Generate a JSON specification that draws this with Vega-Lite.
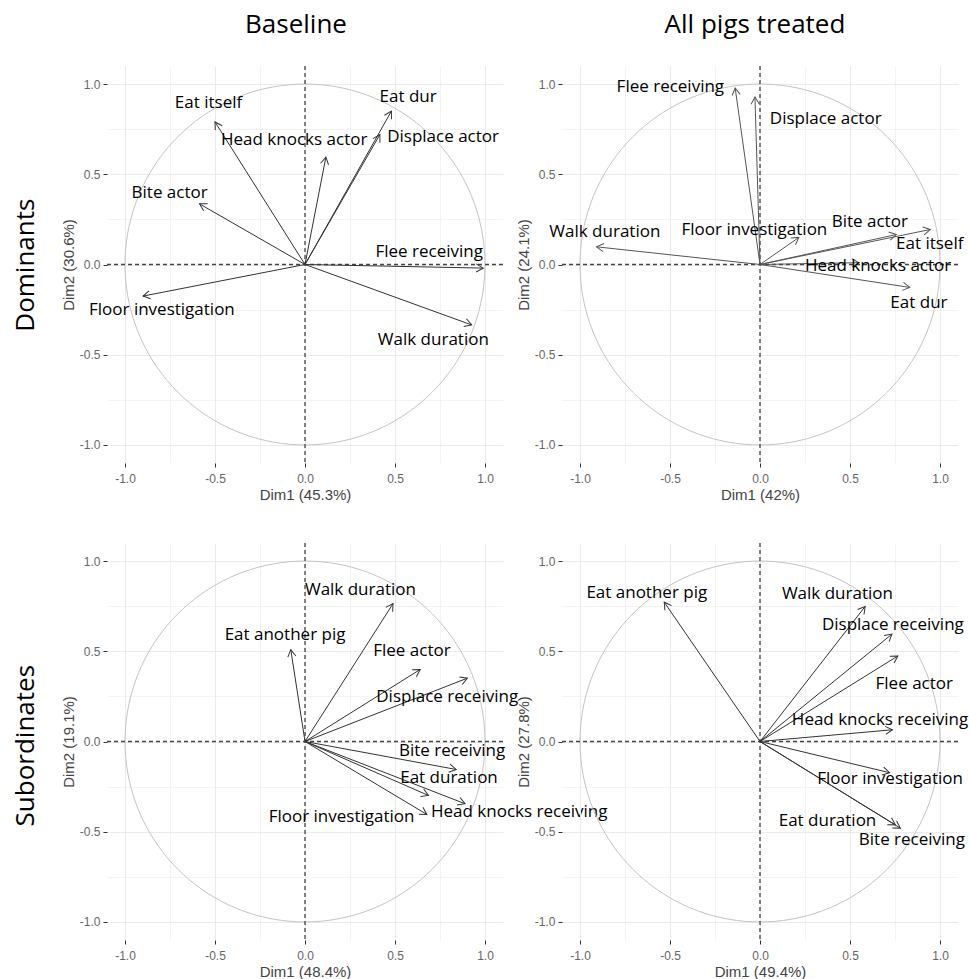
{
"$schema":"https://vega.github.io/schema/vega-lite/v6.json",
"background":"white",
"padding":{"left":13,"top":12,"right":5,"bottom":5},
"config":{"view":{"stroke":null},
 "axis":{"domain":false,"grid":true,"gridColor":"#ebebeb","tickColor":"#333","tickSize":4,"tickWidth":1,"labelFont":"Liberation Sans","labelFontSize":12,"labelColor":"#666","titleFont":"Liberation Sans","titleFontSize":15,"titleFontWeight":"normal","titleColor":"#444","labelOverlap":false,"labelFlush":false},
 "axisX":{"labelPadding":6,"titlePadding":3},
 "axisY":{"labelPadding":3,"titlePadding":3}
},
"datasets":{
"circle":[
{"i":0,"cx":1,"cy":0},{"i":1,"cx":0.9848,"cy":0.1736},{"i":2,"cx":0.9397,"cy":0.342},{"i":3,"cx":0.866,"cy":0.5},{"i":4,"cx":0.766,"cy":0.6428},{"i":5,"cx":0.6428,"cy":0.766},{"i":6,"cx":0.5,"cy":0.866},{"i":7,"cx":0.342,"cy":0.9397},{"i":8,"cx":0.1736,"cy":0.9848},{"i":9,"cx":0,"cy":1},
{"i":10,"cx":-0.1736,"cy":0.9848},{"i":11,"cx":-0.342,"cy":0.9397},{"i":12,"cx":-0.5,"cy":0.866},{"i":13,"cx":-0.6428,"cy":0.766},{"i":14,"cx":-0.766,"cy":0.6428},{"i":15,"cx":-0.866,"cy":0.5},{"i":16,"cx":-0.9397,"cy":0.342},{"i":17,"cx":-0.9848,"cy":0.1736},{"i":18,"cx":-1,"cy":0},
{"i":19,"cx":-0.9848,"cy":-0.1736},{"i":20,"cx":-0.9397,"cy":-0.342},{"i":21,"cx":-0.866,"cy":-0.5},{"i":22,"cx":-0.766,"cy":-0.6428},{"i":23,"cx":-0.6428,"cy":-0.766},{"i":24,"cx":-0.5,"cy":-0.866},{"i":25,"cx":-0.342,"cy":-0.9397},{"i":26,"cx":-0.1736,"cy":-0.9848},{"i":27,"cx":0,"cy":-1},
{"i":28,"cx":0.1736,"cy":-0.9848},{"i":29,"cx":0.342,"cy":-0.9397},{"i":30,"cx":0.5,"cy":-0.866},{"i":31,"cx":0.6428,"cy":-0.766},{"i":32,"cx":0.766,"cy":-0.6428},{"i":33,"cx":0.866,"cy":-0.5},{"i":34,"cx":0.9397,"cy":-0.342},{"i":35,"cx":0.9848,"cy":-0.1736}
],
"A":[
{"label":"Eat itself","x":-0.50,"y":0.79,"lx":-0.536,"ly":0.895},
{"label":"Head knocks actor","x":0.116,"y":0.595,"lx":-0.06,"ly":0.69},
{"label":"Eat dur","x":0.48,"y":0.85,"lx":0.573,"ly":0.928},
{"label":"Displace actor","x":0.416,"y":0.72,"lx":0.767,"ly":0.706},
{"label":"Bite actor","x":-0.586,"y":0.336,"lx":-0.752,"ly":0.397},
{"label":"Flee receiving","x":0.99,"y":-0.02,"lx":0.69,"ly":0.072},
{"label":"Floor investigation","x":-0.90,"y":-0.175,"lx":-0.795,"ly":-0.25},
{"label":"Walk duration","x":0.926,"y":-0.335,"lx":0.713,"ly":-0.421}
],
"B":[
{"label":"Flee receiving","x":-0.138,"y":0.978,"lx":-0.498,"ly":0.983},
{"label":"Displace actor","x":-0.028,"y":0.928,"lx":0.365,"ly":0.805},
{"label":"Walk duration","x":-0.908,"y":0.098,"lx":-0.862,"ly":0.181},
{"label":"Floor investigation","x":0.216,"y":0.15,"lx":-0.031,"ly":0.19},
{"label":"Bite actor","x":0.757,"y":0.166,"lx":0.61,"ly":0.233},
{"label":"Eat itself","x":0.946,"y":0.194,"lx":0.943,"ly":0.116},
{"label":"Head knocks actor","x":0.55,"y":0.01,"lx":0.656,"ly":-0.007},
{"label":"Eat dur","x":0.832,"y":-0.127,"lx":0.883,"ly":-0.216}
],
"C":[
{"label":"Walk duration","x":0.489,"y":0.764,"lx":0.308,"ly":0.841},
{"label":"Eat another pig","x":-0.079,"y":0.509,"lx":-0.111,"ly":0.589},
{"label":"Flee actor","x":0.64,"y":0.399,"lx":0.594,"ly":0.5},
{"label":"Displace receiving","x":0.902,"y":0.351,"lx":0.79,"ly":0.249},
{"label":"Bite receiving","x":0.84,"y":-0.155,"lx":0.817,"ly":-0.055},
{"label":"Eat duration","x":0.686,"y":-0.299,"lx":0.80,"ly":-0.2},
{"label":"Head knocks receiving","x":0.889,"y":-0.345,"lx":1.19,"ly":-0.392},
{"label":"Floor investigation","x":0.677,"y":-0.404,"lx":0.203,"ly":-0.42}
],
"D":[
{"label":"Eat another pig","x":-0.532,"y":0.772,"lx":-0.629,"ly":0.823},
{"label":"Walk duration","x":0.584,"y":0.748,"lx":0.43,"ly":0.819},
{"label":"Displace receiving","x":0.733,"y":0.595,"lx":0.738,"ly":0.645},
{"label":"Flee actor","x":0.766,"y":0.474,"lx":0.857,"ly":0.32},
{"label":"Head knocks receiving","x":0.736,"y":0.065,"lx":0.667,"ly":0.119},
{"label":"Floor investigation","x":0.72,"y":-0.173,"lx":0.723,"ly":-0.21},
{"label":"Eat duration","x":0.752,"y":-0.462,"lx":0.375,"ly":-0.439},
{"label":"Bite receiving","x":0.78,"y":-0.48,"lx":0.844,"ly":-0.545}
]
},
"vconcat":[
{"title":{"text":"Dominants","orient":"left","anchor":"middle","font":"Open Sans","fontSize":26,"fontWeight":"normal","color":"#000","offset":22,"dx":-8},
 "spacing":59,"bounds":"flush",
 "hconcat":[
 {"width":396,"height":397,
  "title":{"text":"Baseline","font":"Open Sans","fontSize":26,"fontWeight":"normal","color":"#000","anchor":"middle","baseline":"alphabetic","offset":6,"dx":-9},
  "layer":[
  {"data":{"name":"circle"},"mark":{"type":"line","color":"#c4c4c4","strokeWidth":1,"interpolate":"cardinal-closed"},
   "encoding":{
    "x":{"field":"cx","type":"quantitative","scale":{"domain":[-1.1,1.1],"nice":false,"zero":false},
     "axis":{"title":"Dim1 (45.3%)","values":[-1,-0.75,-0.5,-0.25,0,0.25,0.5,0.75,1],"labelExpr":"abs(datum.value*2-round(datum.value*2))<0.01 ? replace(format(datum.value,'.1f'),'\u2212','-') : ''","gridWidth":{"condition":{"test":"abs(datum.value*2-round(datum.value*2))>0.01","value":0.6},"value":1},"tickOpacity":{"condition":{"test":"abs(datum.value*2-round(datum.value*2))>0.01","value":0},"value":1}}},
    "y":{"field":"cy","type":"quantitative","scale":{"domain":[-1.1,1.1],"nice":false,"zero":false},
     "axis":{"title":"Dim2 (30.6%)","values":[-1,-0.75,-0.5,-0.25,0,0.25,0.5,0.75,1],"labelExpr":"abs(datum.value*2-round(datum.value*2))<0.01 ? replace(format(datum.value,'.1f'),'\u2212','-') : ''","gridWidth":{"condition":{"test":"abs(datum.value*2-round(datum.value*2))>0.01","value":0.6},"value":1},"tickOpacity":{"condition":{"test":"abs(datum.value*2-round(datum.value*2))>0.01","value":0},"value":1}}},
    "order":{"field":"i","type":"quantitative"}}},
  {"data":{"values":[{}]},"mark":{"type":"rule","color":"#444","strokeWidth":1.3,"strokeDash":[4,3]},"encoding":{"x":{"datum":0,"type":"quantitative","scale":{"domain":[-1.1,1.1]}}}},
  {"data":{"values":[{}]},"mark":{"type":"rule","color":"#444","strokeWidth":1.3,"strokeDash":[4,3]},"encoding":{"y":{"datum":0,"type":"quantitative","scale":{"domain":[-1.1,1.1]}}}},
  {"data":{"name":"A"},"mark":{"type":"rule","color":"#333","strokeWidth":1},"encoding":{"x":{"field":"x","type":"quantitative","scale":{"domain":[-1.1,1.1]}},"y":{"field":"y","type":"quantitative","scale":{"domain":[-1.1,1.1]}},"x2":{"datum":0},"y2":{"datum":0}}},
  {"data":{"name":"A"},"transform":[{"calculate":"atan2(datum.x, datum.y)*180/PI","as":"ang"}],"mark":{"type":"point","shape":"M-0.58,1L0,0L0.58,1","filled":false,"stroke":"#333","strokeWidth":1,"size":196,"opacity":1},"encoding":{"x":{"field":"x","type":"quantitative","scale":{"domain":[-1.1,1.1]}},"y":{"field":"y","type":"quantitative","scale":{"domain":[-1.1,1.1]}},"angle":{"field":"ang","type":"quantitative","scale":null}}},
  {"data":{"name":"A"},"mark":{"type":"text","font":"Open Sans","fontSize":17,"color":"#000","align":"center","baseline":"middle"},"encoding":{"x":{"field":"lx","type":"quantitative","scale":{"domain":[-1.1,1.1]}},"y":{"field":"ly","type":"quantitative","scale":{"domain":[-1.1,1.1]}},"text":{"field":"label"}}}
  ]},
 {"width":396,"height":397,
  "title":{"text":"All pigs treated","font":"Open Sans","fontSize":26,"fontWeight":"normal","color":"#000","anchor":"middle","baseline":"alphabetic","offset":6,"dx":-5},
  "layer":[
  {"data":{"name":"circle"},"mark":{"type":"line","color":"#c4c4c4","strokeWidth":1,"interpolate":"cardinal-closed"},
   "encoding":{
    "x":{"field":"cx","type":"quantitative","scale":{"domain":[-1.1,1.1],"nice":false,"zero":false},
     "axis":{"title":"Dim1 (42%)","values":[-1,-0.75,-0.5,-0.25,0,0.25,0.5,0.75,1],"labelExpr":"abs(datum.value*2-round(datum.value*2))<0.01 ? replace(format(datum.value,'.1f'),'\u2212','-') : ''","gridWidth":{"condition":{"test":"abs(datum.value*2-round(datum.value*2))>0.01","value":0.6},"value":1},"tickOpacity":{"condition":{"test":"abs(datum.value*2-round(datum.value*2))>0.01","value":0},"value":1}}},
    "y":{"field":"cy","type":"quantitative","scale":{"domain":[-1.1,1.1],"nice":false,"zero":false},
     "axis":{"title":"Dim2 (24.1%)","values":[-1,-0.75,-0.5,-0.25,0,0.25,0.5,0.75,1],"labelExpr":"abs(datum.value*2-round(datum.value*2))<0.01 ? replace(format(datum.value,'.1f'),'\u2212','-') : ''","gridWidth":{"condition":{"test":"abs(datum.value*2-round(datum.value*2))>0.01","value":0.6},"value":1},"tickOpacity":{"condition":{"test":"abs(datum.value*2-round(datum.value*2))>0.01","value":0},"value":1}}},
    "order":{"field":"i","type":"quantitative"}}},
  {"data":{"values":[{}]},"mark":{"type":"rule","color":"#444","strokeWidth":1.3,"strokeDash":[4,3]},"encoding":{"x":{"datum":0,"type":"quantitative","scale":{"domain":[-1.1,1.1]}}}},
  {"data":{"values":[{}]},"mark":{"type":"rule","color":"#444","strokeWidth":1.3,"strokeDash":[4,3]},"encoding":{"y":{"datum":0,"type":"quantitative","scale":{"domain":[-1.1,1.1]}}}},
  {"data":{"name":"B"},"mark":{"type":"rule","color":"#555","strokeWidth":1},"encoding":{"x":{"field":"x","type":"quantitative","scale":{"domain":[-1.1,1.1]}},"y":{"field":"y","type":"quantitative","scale":{"domain":[-1.1,1.1]}},"x2":{"datum":0},"y2":{"datum":0}}},
  {"data":{"name":"B"},"transform":[{"calculate":"atan2(datum.x, datum.y)*180/PI","as":"ang"}],"mark":{"type":"point","shape":"M-0.58,1L0,0L0.58,1","filled":false,"stroke":"#555","strokeWidth":1,"size":196,"opacity":1},"encoding":{"x":{"field":"x","type":"quantitative","scale":{"domain":[-1.1,1.1]}},"y":{"field":"y","type":"quantitative","scale":{"domain":[-1.1,1.1]}},"angle":{"field":"ang","type":"quantitative","scale":null}}},
  {"data":{"name":"B"},"mark":{"type":"text","font":"Open Sans","fontSize":17,"color":"#000","align":"center","baseline":"middle"},"encoding":{"x":{"field":"lx","type":"quantitative","scale":{"domain":[-1.1,1.1]}},"y":{"field":"ly","type":"quantitative","scale":{"domain":[-1.1,1.1]}},"text":{"field":"label"}}}
  ]}
 ]},
{"title":{"text":"Subordinates","orient":"left","anchor":"middle","font":"Open Sans","fontSize":26,"fontWeight":"normal","color":"#000","offset":22,"dx":15},
 "spacing":59,"bounds":"flush",
 "hconcat":[
 {"width":396,"height":397,
  "layer":[
  {"data":{"name":"circle"},"mark":{"type":"line","color":"#c4c4c4","strokeWidth":1,"interpolate":"cardinal-closed"},
   "encoding":{
    "x":{"field":"cx","type":"quantitative","scale":{"domain":[-1.1,1.1],"nice":false,"zero":false},
     "axis":{"title":"Dim1 (48.4%)","values":[-1,-0.75,-0.5,-0.25,0,0.25,0.5,0.75,1],"labelExpr":"abs(datum.value*2-round(datum.value*2))<0.01 ? replace(format(datum.value,'.1f'),'\u2212','-') : ''","gridWidth":{"condition":{"test":"abs(datum.value*2-round(datum.value*2))>0.01","value":0.6},"value":1},"tickOpacity":{"condition":{"test":"abs(datum.value*2-round(datum.value*2))>0.01","value":0},"value":1}}},
    "y":{"field":"cy","type":"quantitative","scale":{"domain":[-1.1,1.1],"nice":false,"zero":false},
     "axis":{"title":"Dim2 (19.1%)","values":[-1,-0.75,-0.5,-0.25,0,0.25,0.5,0.75,1],"labelExpr":"abs(datum.value*2-round(datum.value*2))<0.01 ? replace(format(datum.value,'.1f'),'\u2212','-') : ''","gridWidth":{"condition":{"test":"abs(datum.value*2-round(datum.value*2))>0.01","value":0.6},"value":1},"tickOpacity":{"condition":{"test":"abs(datum.value*2-round(datum.value*2))>0.01","value":0},"value":1}}},
    "order":{"field":"i","type":"quantitative"}}},
  {"data":{"values":[{}]},"mark":{"type":"rule","color":"#444","strokeWidth":1.3,"strokeDash":[4,3]},"encoding":{"x":{"datum":0,"type":"quantitative","scale":{"domain":[-1.1,1.1]}}}},
  {"data":{"values":[{}]},"mark":{"type":"rule","color":"#444","strokeWidth":1.3,"strokeDash":[4,3]},"encoding":{"y":{"datum":0,"type":"quantitative","scale":{"domain":[-1.1,1.1]}}}},
  {"data":{"name":"C"},"mark":{"type":"rule","color":"#333","strokeWidth":1},"encoding":{"x":{"field":"x","type":"quantitative","scale":{"domain":[-1.1,1.1]}},"y":{"field":"y","type":"quantitative","scale":{"domain":[-1.1,1.1]}},"x2":{"datum":0},"y2":{"datum":0}}},
  {"data":{"name":"C"},"transform":[{"calculate":"atan2(datum.x, datum.y)*180/PI","as":"ang"}],"mark":{"type":"point","shape":"M-0.58,1L0,0L0.58,1","filled":false,"stroke":"#333","strokeWidth":1,"size":196,"opacity":1},"encoding":{"x":{"field":"x","type":"quantitative","scale":{"domain":[-1.1,1.1]}},"y":{"field":"y","type":"quantitative","scale":{"domain":[-1.1,1.1]}},"angle":{"field":"ang","type":"quantitative","scale":null}}},
  {"data":{"name":"C"},"mark":{"type":"text","font":"Open Sans","fontSize":17,"color":"#000","align":"center","baseline":"middle"},"encoding":{"x":{"field":"lx","type":"quantitative","scale":{"domain":[-1.1,1.1]}},"y":{"field":"ly","type":"quantitative","scale":{"domain":[-1.1,1.1]}},"text":{"field":"label"}}}
  ]},
 {"width":396,"height":397,
  "layer":[
  {"data":{"name":"circle"},"mark":{"type":"line","color":"#c4c4c4","strokeWidth":1,"interpolate":"cardinal-closed"},
   "encoding":{
    "x":{"field":"cx","type":"quantitative","scale":{"domain":[-1.1,1.1],"nice":false,"zero":false},
     "axis":{"title":"Dim1 (49.4%)","values":[-1,-0.75,-0.5,-0.25,0,0.25,0.5,0.75,1],"labelExpr":"abs(datum.value*2-round(datum.value*2))<0.01 ? replace(format(datum.value,'.1f'),'\u2212','-') : ''","gridWidth":{"condition":{"test":"abs(datum.value*2-round(datum.value*2))>0.01","value":0.6},"value":1},"tickOpacity":{"condition":{"test":"abs(datum.value*2-round(datum.value*2))>0.01","value":0},"value":1}}},
    "y":{"field":"cy","type":"quantitative","scale":{"domain":[-1.1,1.1],"nice":false,"zero":false},
     "axis":{"title":"Dim2 (27.8%)","values":[-1,-0.75,-0.5,-0.25,0,0.25,0.5,0.75,1],"labelExpr":"abs(datum.value*2-round(datum.value*2))<0.01 ? replace(format(datum.value,'.1f'),'\u2212','-') : ''","gridWidth":{"condition":{"test":"abs(datum.value*2-round(datum.value*2))>0.01","value":0.6},"value":1},"tickOpacity":{"condition":{"test":"abs(datum.value*2-round(datum.value*2))>0.01","value":0},"value":1}}},
    "order":{"field":"i","type":"quantitative"}}},
  {"data":{"values":[{}]},"mark":{"type":"rule","color":"#444","strokeWidth":1.3,"strokeDash":[4,3]},"encoding":{"x":{"datum":0,"type":"quantitative","scale":{"domain":[-1.1,1.1]}}}},
  {"data":{"values":[{}]},"mark":{"type":"rule","color":"#444","strokeWidth":1.3,"strokeDash":[4,3]},"encoding":{"y":{"datum":0,"type":"quantitative","scale":{"domain":[-1.1,1.1]}}}},
  {"data":{"name":"D"},"mark":{"type":"rule","color":"#333","strokeWidth":1},"encoding":{"x":{"field":"x","type":"quantitative","scale":{"domain":[-1.1,1.1]}},"y":{"field":"y","type":"quantitative","scale":{"domain":[-1.1,1.1]}},"x2":{"datum":0},"y2":{"datum":0}}},
  {"data":{"name":"D"},"transform":[{"calculate":"atan2(datum.x, datum.y)*180/PI","as":"ang"}],"mark":{"type":"point","shape":"M-0.58,1L0,0L0.58,1","filled":false,"stroke":"#333","strokeWidth":1,"size":196,"opacity":1},"encoding":{"x":{"field":"x","type":"quantitative","scale":{"domain":[-1.1,1.1]}},"y":{"field":"y","type":"quantitative","scale":{"domain":[-1.1,1.1]}},"angle":{"field":"ang","type":"quantitative","scale":null}}},
  {"data":{"name":"D"},"mark":{"type":"text","font":"Open Sans","fontSize":17,"color":"#000","align":"center","baseline":"middle"},"encoding":{"x":{"field":"lx","type":"quantitative","scale":{"domain":[-1.1,1.1]}},"y":{"field":"ly","type":"quantitative","scale":{"domain":[-1.1,1.1]}},"text":{"field":"label"}}}
  ]}
 ]}
],
"spacing":40
}
